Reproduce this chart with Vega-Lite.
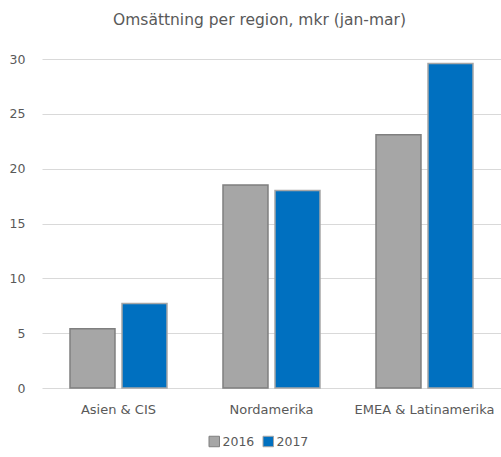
{
  "$schema": "https://vega.github.io/schema/vega-lite/v6.json",
  "autosize": {"type": "none"},
  "padding": {"left": 42, "top": 59, "right": 0, "bottom": 69},
  "width": 459,
  "height": 329,
  "background": "white",
  "title": {
    "text": "Omsättning per region, mkr (jan-mar)",
    "font": "DejaVu Sans",
    "fontSize": 15.5,
    "fontWeight": "normal",
    "color": "#595959",
    "anchor": "middle",
    "frame": "group",
    "offset": 25,
    "dx": -12
  },
  "data": {
    "values": [
      {"region": "Asien & CIS", "year": "2016", "value": 5.4},
      {"region": "Asien & CIS", "year": "2017", "value": 7.7},
      {"region": "Nordamerika", "year": "2016", "value": 18.5},
      {"region": "Nordamerika", "year": "2017", "value": 18.0},
      {"region": "EMEA & Latinamerika", "year": "2016", "value": 23.1},
      {"region": "EMEA & Latinamerika", "year": "2017", "value": 29.6}
    ]
  },
  "mark": {"type": "bar", "strokeWidth": 1.5},
  "encoding": {
    "x": {
      "field": "region",
      "type": "nominal",
      "sort": null,
      "scale": {"paddingInner": 0.366, "paddingOuter": 0.183},
      "axis": {
        "title": null,
        "labelAngle": 0,
        "domain": false,
        "ticks": false,
        "labelPadding": 15,
        "labelFont": "DejaVu Sans",
        "labelFontSize": 13,
        "labelColor": "#595959"
      }
    },
    "xOffset": {"field": "year", "type": "nominal", "scale": {"paddingInner": 0.135}},
    "y": {
      "field": "value",
      "type": "quantitative",
      "scale": {"domain": [0, 30]},
      "axis": {
        "title": null,
        "values": [0, 5, 10, 15, 20, 25, 30],
        "domain": false,
        "ticks": false,
        "labelPadding": 17,
        "labelFont": "DejaVu Sans",
        "labelFontSize": 12.5,
        "labelColor": "#595959",
        "gridColor": "#d9d9d9",
        "gridWidth": 1
      }
    },
    "color": {
      "field": "year",
      "type": "nominal",
      "scale": {"domain": ["2016", "2017"], "range": ["#a6a6a6", "#0070c0"]},
      "legend": {
        "title": null,
        "orient": "none",
        "direction": "horizontal",
        "legendX": 166,
        "legendY": 376,
        "symbolType": "square",
        "symbolSize": 110,
        "symbolStrokeWidth": 1,
        "labelFont": "DejaVu Sans",
        "labelFontSize": 12.5,
        "labelColor": "#595959",
        "labelOffset": 2,
        "columnPadding": 6
      }
    },
    "stroke": {
      "field": "year",
      "type": "nominal",
      "scale": {"domain": ["2016", "2017"], "range": ["#7f7f7f", "#a6a6a6"]}
    }
  },
  "config": {"view": {"stroke": null}}
}
